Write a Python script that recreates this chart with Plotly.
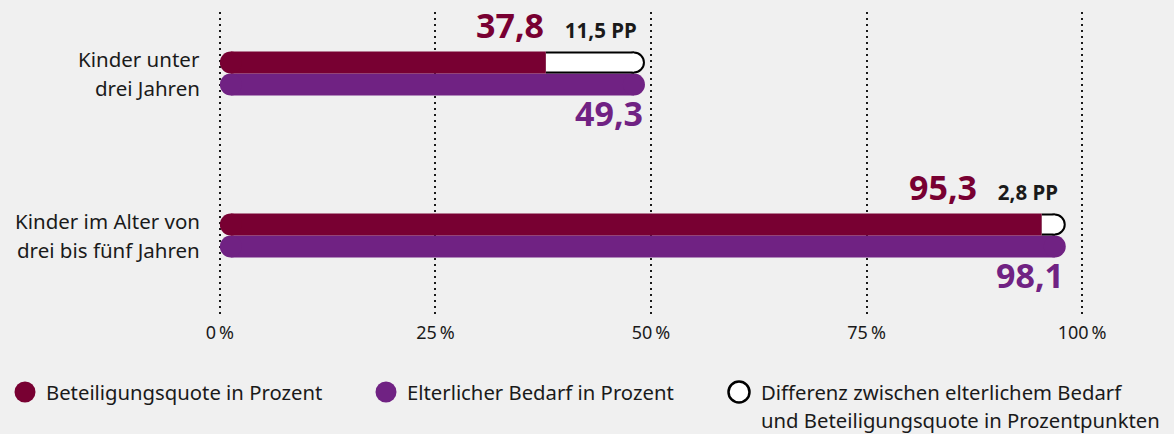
import plotly.graph_objects as go

# ---------------- data ----------------
categories = ["Kinder unter<br>drei Jahren", "Kinder im Alter von<br>drei bis fünf Jahren"]
beteiligung = [37.8, 95.3]      # Beteiligungsquote in Prozent
bedarf = [49.3, 98.1]           # Elterlicher Bedarf in Prozent
differenz = [11.5, 2.8]         # Differenz in Prozentpunkten
tick_vals = [0, 25, 50, 75, 100]
tick_text = ["0\u2009%", "25\u2009%", "50\u2009%", "75\u2009%", "100\u2009%"]
legend_labels = [
    "Beteiligungsquote in Prozent",
    "Elterlicher Bedarf in Prozent",
    "Differenz zwischen elterlichem Bedarf<br>und Beteiligungsquote in Prozentpunkten",
]

# ---------------- style ----------------
MAROON = "#780032"
PURPLE = "#702283"
BG = "#f0f0f0"
INK = "#1a1a1a"
FONT = "Noto Sans"

W, H = 1174, 434
ML, MR, MT, MB = 194, 66, 12, 116
PW, PH = W - ML - MR, H - MT - MB
XR = [-3, 103]
PXX = PW / (XR[1] - XR[0])        # pixels per percent
BAR = 22                           # bar thickness in px
RX = BAR / 2 / PXX                 # cap radius in data units
ROW = 162                          # px between categories
Y_TOP = -61.5 / ROW
YR = [Y_TOP + PH / ROW, Y_TOP]
DY = BAR / 2 / ROW


def de(v):
    return f"{v:.1f}".replace(".", ",")


def segs(pairs, ys, sizes):
    xs, yy, ss = [], [], []
    for (a, b), y, (sa, sb) in zip(pairs, ys, sizes):
        xs += [a, b, None]
        yy += [y, y, None]
        ss += [sa, sb, 0]
    return xs, yy, ss


idx = list(range(len(categories)))
y_mar = [i - DY for i in idx]
y_pur = [i + DY for i in idx]

fig = go.Figure()

# purple bars (Bedarf)
xs, ys, ss = segs([(RX, n - RX) for n in bedarf], y_pur, [(BAR, BAR)] * len(idx))
fig.add_trace(go.Scatter(x=xs, y=ys, mode="lines+markers",
                         line=dict(color=PURPLE, width=BAR),
                         marker=dict(color=PURPLE, size=ss, opacity=1, line=dict(width=0)),
                         hoverinfo="skip", showlegend=False))

# difference: black outline
xs, ys, _ = segs([(p, n - RX) for p, n in zip(beteiligung, bedarf)], y_mar, [(0, 0)] * len(idx))
fig.add_trace(go.Scatter(x=xs, y=ys, mode="lines",
                         line=dict(color="black", width=BAR),
                         hoverinfo="skip", showlegend=False))
fig.add_trace(go.Scatter(x=[n - RX for n in bedarf], y=y_mar, mode="markers",
                         marker=dict(color="white", size=BAR - 2, opacity=1,
                                     line=dict(color="black", width=2)),
                         hoverinfo="skip", showlegend=False))
fig.add_trace(go.Scatter(x=xs, y=ys, mode="lines",
                         line=dict(color="white", width=BAR - 4),
                         hoverinfo="skip", showlegend=False))

# maroon bars (Beteiligungsquote)
xs, ys, ss = segs([(RX, p) for p in beteiligung], y_mar, [(BAR, 0)] * len(idx))
fig.add_trace(go.Scatter(x=xs, y=ys, mode="lines+markers",
                         line=dict(color=MAROON, width=BAR),
                         marker=dict(color=MAROON, size=ss, opacity=1, line=dict(width=0)),
                         hoverinfo="skip", showlegend=False))

annotations = []
for i, p, n, d in zip(idx, beteiligung, bedarf, differenz):
    annotations.append(dict(
        x=n, y=i - DY, xref="x", yref="y", xanchor="right", yanchor="bottom",
        xshift=-6, yshift=BAR / 2 + 2, showarrow=False,
        text=(f"<b><span style='color:{MAROON};font-size:34px'>{de(p)}</span>"
              f"\u00a0\u00a0\u00a0\u00a0<span style='font-size:20.5px'>{de(d)}\u00a0PP</span></b>"),
        font=dict(family=FONT, size=20, color=INK)))
    annotations.append(dict(
        x=n, y=i + DY, xref="x", yref="y", xanchor="right", yanchor="top",
        xshift=0, yshift=-BAR / 2 + 8, showarrow=False,
        text=f"<b>{de(n)}</b>", font=dict(family=FONT, size=34, color=PURPLE)))
    lines = categories[i].split("<br>")
    for k, line in enumerate(lines):
        annotations.append(dict(
            x=(202 - ML) / PW, y=i, xref="paper", yref="y", xanchor="right", yanchor="middle",
            yshift=(len(lines) - 1) / 2 * 29 - k * 29, showarrow=False,
            text=line, font=dict(family=FONT, size=20.5, color=INK)))

# legend (manual)
shapes = []
leg_items = [(25, 45, MAROON, MAROON), (386, 406, PURPLE, PURPLE), (739, 760, "white", "black")]
LEG_Y = (H - MB - 392) / PH
for (cx, tx, fill, edge), label in zip(leg_items, legend_labels):
    shapes.append(dict(type="circle", xref="paper", yref="paper",
                       xsizemode="pixel", ysizemode="pixel",
                       xanchor=(cx - ML) / PW, yanchor=LEG_Y,
                       x0=-10.5, x1=10.5, y0=-10.5, y1=10.5,
                       fillcolor=fill,
                       line=dict(color=edge, width=2.5 if fill == "white" else 0)))
    for k, line in enumerate(label.split("<br>")):
        annotations.append(dict(
            x=(tx - ML) / PW, y=LEG_Y, xref="paper", yref="paper",
            xanchor="left", yanchor="middle", yshift=-k * 28, showarrow=False,
            borderpad=0,
            text=line, font=dict(family=FONT, size=20.3, color=INK)))

fig.update_layout(
    width=W, height=H,
    margin=dict(l=ML, r=MR, t=MT, b=MB, pad=0),
    paper_bgcolor=BG, plot_bgcolor=BG,
    font=dict(family=FONT, color=INK),
    showlegend=False,
    xaxis=dict(range=XR, tickvals=tick_vals, ticktext=tick_text,
               showgrid=True, gridcolor=INK, gridwidth=2, griddash="2px,4px",
               zeroline=False, showline=False, ticks="", ticklabelstandoff=2,
               tickfont=dict(family=FONT, size=18, color=INK), fixedrange=True),
    yaxis=dict(range=YR, showgrid=False, zeroline=False, showline=False,
               showticklabels=False, ticks="", fixedrange=True),
    annotations=annotations,
    shapes=shapes,
)

fig.write_html(
    "out.html",
    config={"displayModeBar": False},
    post_script="document.body.style.margin='0';document.body.style.overflow='hidden';",
)
